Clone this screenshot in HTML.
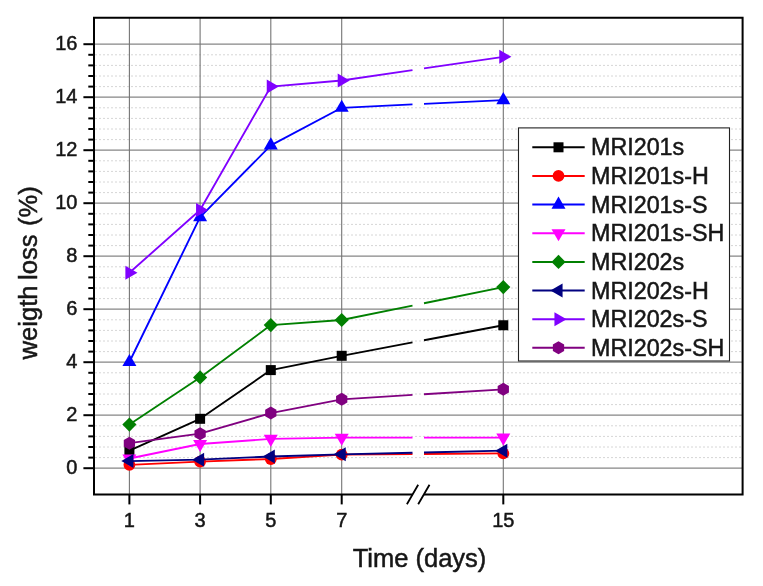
<!DOCTYPE html>
<html lang="en"><head><meta charset="utf-8"><title>Weight loss vs time</title>
<style>html,body{margin:0;padding:0;background:#fff}body{width:763px;height:586px;overflow:hidden}svg{display:block;will-change:transform;opacity:.999;filter:blur(.4px)}text{font-family:'Liberation Sans', sans-serif;fill:#161616;stroke:#161616;stroke-width:.5px}</style></head><body>
<svg width="763" height="586" viewBox="0 0 763 586">
<rect width="763" height="586" fill="#fff"/>
<g stroke="#d6d6d6" stroke-width="1" stroke-dasharray="2 2" fill="none">
<line x1="95" y1="457.6" x2="741.6" y2="457.6"/>
<line x1="95" y1="447" x2="741.6" y2="447"/>
<line x1="95" y1="436.4" x2="741.6" y2="436.4"/>
<line x1="95" y1="425.8" x2="741.6" y2="425.8"/>
<line x1="95" y1="404.6" x2="741.6" y2="404.6"/>
<line x1="95" y1="394" x2="741.6" y2="394"/>
<line x1="95" y1="383.4" x2="741.6" y2="383.4"/>
<line x1="95" y1="372.8" x2="741.6" y2="372.8"/>
<line x1="95" y1="351.6" x2="741.6" y2="351.6"/>
<line x1="95" y1="341" x2="741.6" y2="341"/>
<line x1="95" y1="330.4" x2="741.6" y2="330.4"/>
<line x1="95" y1="319.8" x2="741.6" y2="319.8"/>
<line x1="95" y1="298.6" x2="741.6" y2="298.6"/>
<line x1="95" y1="288" x2="741.6" y2="288"/>
<line x1="95" y1="277.4" x2="741.6" y2="277.4"/>
<line x1="95" y1="266.8" x2="741.6" y2="266.8"/>
<line x1="95" y1="245.6" x2="741.6" y2="245.6"/>
<line x1="95" y1="235" x2="741.6" y2="235"/>
<line x1="95" y1="224.4" x2="741.6" y2="224.4"/>
<line x1="95" y1="213.8" x2="741.6" y2="213.8"/>
<line x1="95" y1="192.6" x2="741.6" y2="192.6"/>
<line x1="95" y1="182" x2="741.6" y2="182"/>
<line x1="95" y1="171.4" x2="741.6" y2="171.4"/>
<line x1="95" y1="160.8" x2="741.6" y2="160.8"/>
<line x1="95" y1="139.6" x2="741.6" y2="139.6"/>
<line x1="95" y1="129" x2="741.6" y2="129"/>
<line x1="95" y1="118.4" x2="741.6" y2="118.4"/>
<line x1="95" y1="107.8" x2="741.6" y2="107.8"/>
<line x1="95" y1="86.6" x2="741.6" y2="86.6"/>
<line x1="95" y1="76" x2="741.6" y2="76"/>
<line x1="95" y1="65.4" x2="741.6" y2="65.4"/>
<line x1="95" y1="54.8" x2="741.6" y2="54.8"/>
</g>
<g stroke="#868686" stroke-width="1.2" fill="none">
<line x1="94" y1="468.2" x2="742.6" y2="468.2"/>
<line x1="94" y1="415.2" x2="742.6" y2="415.2"/>
<line x1="94" y1="362.2" x2="742.6" y2="362.2"/>
<line x1="94" y1="309.2" x2="742.6" y2="309.2"/>
<line x1="94" y1="256.2" x2="742.6" y2="256.2"/>
<line x1="94" y1="203.2" x2="742.6" y2="203.2"/>
<line x1="94" y1="150.2" x2="742.6" y2="150.2"/>
<line x1="94" y1="97.2" x2="742.6" y2="97.2"/>
<line x1="94" y1="44.2" x2="742.6" y2="44.2"/>
</g><g stroke="#747474" stroke-width="1.1" fill="none">
<line x1="129.4" y1="17.65" x2="129.4" y2="494.6"/>
<line x1="200.1" y1="17.65" x2="200.1" y2="494.6"/>
<line x1="270.8" y1="17.65" x2="270.8" y2="494.6"/>
<line x1="341.7" y1="17.65" x2="341.7" y2="494.6"/>
<line x1="503.3" y1="17.65" x2="503.3" y2="494.6"/>
</g>
<g>
<path d="M129.4 450.6 L200.1 418.8 L270.8 370.1 L341.7 355.8 L412.5 342.42 M424 340.24 L503.3 325.25" stroke="#000000" stroke-width="1.85" fill="none" stroke-linejoin="round"/>
<rect x="124.4" y="445.6" width="10" height="10" fill="#000000"/>
<rect x="195.1" y="413.8" width="10" height="10" fill="#000000"/>
<rect x="265.8" y="365.1" width="10" height="10" fill="#000000"/>
<rect x="336.7" y="350.8" width="10" height="10" fill="#000000"/>
<rect x="498.3" y="320.25" width="10" height="10" fill="#000000"/>
</g>
<g>
<path d="M129.4 464.8 L200.1 461.6 L270.8 459 L341.7 454.7 L412.5 454.13 M424 454.04 L503.3 453.4" stroke="#ff0000" stroke-width="1.85" fill="none" stroke-linejoin="round"/>
<circle cx="129.4" cy="464.8" r="5.9" fill="#ff0000"/>
<circle cx="200.1" cy="461.6" r="5.9" fill="#ff0000"/>
<circle cx="270.8" cy="459" r="5.9" fill="#ff0000"/>
<circle cx="341.7" cy="454.7" r="5.9" fill="#ff0000"/>
<circle cx="503.3" cy="453.4" r="5.9" fill="#ff0000"/>
</g>
<g>
<path d="M129.4 362 L200.1 217.2 L270.8 145.4 L341.7 107.8 L412.5 104.43 M424 103.88 L503.3 100.1" stroke="#0000ff" stroke-width="1.85" fill="none" stroke-linejoin="round"/>
<polygon points="129.4,353.92 122.4,366.04 136.4,366.04" fill="#0000ff"/>
<polygon points="200.1,209.12 193.1,221.24 207.1,221.24" fill="#0000ff"/>
<polygon points="270.8,137.32 263.8,149.44 277.8,149.44" fill="#0000ff"/>
<polygon points="341.7,99.72 334.7,111.84 348.7,111.84" fill="#0000ff"/>
<polygon points="503.3,92.02 496.3,104.14 510.3,104.14" fill="#0000ff"/>
</g>
<g>
<path d="M129.4 458.5 L200.1 444 L270.8 438.9 L341.7 437.7 L412.5 437.66 M424 437.65 L503.3 437.6" stroke="#ff00ff" stroke-width="1.85" fill="none" stroke-linejoin="round"/>
<polygon points="129.4,466.58 122.4,454.46 136.4,454.46" fill="#ff00ff"/>
<polygon points="200.1,452.08 193.1,439.96 207.1,439.96" fill="#ff00ff"/>
<polygon points="270.8,446.98 263.8,434.86 277.8,434.86" fill="#ff00ff"/>
<polygon points="341.7,445.78 334.7,433.66 348.7,433.66" fill="#ff00ff"/>
<polygon points="503.3,445.68 496.3,433.56 510.3,433.56" fill="#ff00ff"/>
</g>
<g>
<path d="M129.4 424.55 L200.1 377.4 L270.8 325.1 L341.7 320 L412.5 305.56 M424 303.22 L503.3 287.05" stroke="#008000" stroke-width="1.85" fill="none" stroke-linejoin="round"/>
<polygon points="129.4,417.45 136.5,424.55 129.4,431.65 122.3,424.55" fill="#008000"/>
<polygon points="200.1,370.3 207.2,377.4 200.1,384.5 193,377.4" fill="#008000"/>
<polygon points="270.8,318 277.9,325.1 270.8,332.2 263.7,325.1" fill="#008000"/>
<polygon points="341.7,312.9 348.8,320 341.7,327.1 334.6,320" fill="#008000"/>
<polygon points="503.3,279.95 510.4,287.05 503.3,294.15 496.2,287.05" fill="#008000"/>
</g>
<g>
<path d="M129.4 461.1 L200.1 459.7 L270.8 456.5 L341.7 454.3 L412.5 452.72 M424 452.47 L503.3 450.7" stroke="#000080" stroke-width="1.85" fill="none" stroke-linejoin="round"/>
<polygon points="121.32,461.1 133.44,454.1 133.44,468.1" fill="#000080"/>
<polygon points="192.02,459.7 204.14,452.7 204.14,466.7" fill="#000080"/>
<polygon points="262.72,456.5 274.84,449.5 274.84,463.5" fill="#000080"/>
<polygon points="333.62,454.3 345.74,447.3 345.74,461.3" fill="#000080"/>
<polygon points="495.22,450.7 507.34,443.7 507.34,457.7" fill="#000080"/>
</g>
<g>
<path d="M129.4 272.8 L200.1 210 L270.8 86.6 L341.7 80.5 L412.5 70.12 M424 68.43 L503.3 56.8" stroke="#8000ff" stroke-width="1.85" fill="none" stroke-linejoin="round"/>
<polygon points="137.48,272.8 125.36,265.8 125.36,279.8" fill="#8000ff"/>
<polygon points="208.18,210 196.06,203 196.06,217" fill="#8000ff"/>
<polygon points="278.88,86.6 266.76,79.6 266.76,93.6" fill="#8000ff"/>
<polygon points="349.78,80.5 337.66,73.5 337.66,87.5" fill="#8000ff"/>
<polygon points="511.38,56.8 499.26,49.8 499.26,63.8" fill="#8000ff"/>
</g>
<g>
<path d="M129.4 443.2 L200.1 433.7 L270.8 413.1 L341.7 399.3 L412.5 394.92 M424 394.21 L503.3 389.3" stroke="#800080" stroke-width="1.85" fill="none" stroke-linejoin="round"/>
<polygon points="129.4,436.7 135.03,439.95 135.03,446.45 129.4,449.7 123.77,446.45 123.77,439.95" fill="#800080"/>
<polygon points="200.1,427.2 205.73,430.45 205.73,436.95 200.1,440.2 194.47,436.95 194.47,430.45" fill="#800080"/>
<polygon points="270.8,406.6 276.43,409.85 276.43,416.35 270.8,419.6 265.17,416.35 265.17,409.85" fill="#800080"/>
<polygon points="341.7,392.8 347.33,396.05 347.33,402.55 341.7,405.8 336.07,402.55 336.07,396.05" fill="#800080"/>
<polygon points="503.3,382.8 508.93,386.05 508.93,392.55 503.3,395.8 497.67,392.55 497.67,386.05" fill="#800080"/>
</g>
<g stroke="#000" stroke-width="2" fill="none" stroke-linecap="butt">
<path d="M412.5 494.6 L94 494.6 L94 17.65 L742.6 17.65 L742.6 495.6 M743.6 494.6 L424 494.6"/>
<path d="M406.9 504.3 L418.2 484.8 M418.2 504.3 L429.5 484.8" stroke-width="1.8"/>
<line x1="83.4" y1="468.2" x2="94" y2="468.2"/>
<line x1="83.4" y1="415.2" x2="94" y2="415.2"/>
<line x1="83.4" y1="362.2" x2="94" y2="362.2"/>
<line x1="83.4" y1="309.2" x2="94" y2="309.2"/>
<line x1="83.4" y1="256.2" x2="94" y2="256.2"/>
<line x1="83.4" y1="203.2" x2="94" y2="203.2"/>
<line x1="83.4" y1="150.2" x2="94" y2="150.2"/>
<line x1="83.4" y1="97.2" x2="94" y2="97.2"/>
<line x1="83.4" y1="44.2" x2="94" y2="44.2"/>
<line x1="88.3" y1="457.6" x2="94" y2="457.6"/>
<line x1="88.3" y1="447" x2="94" y2="447"/>
<line x1="88.3" y1="436.4" x2="94" y2="436.4"/>
<line x1="88.3" y1="425.8" x2="94" y2="425.8"/>
<line x1="88.3" y1="404.6" x2="94" y2="404.6"/>
<line x1="88.3" y1="394" x2="94" y2="394"/>
<line x1="88.3" y1="383.4" x2="94" y2="383.4"/>
<line x1="88.3" y1="372.8" x2="94" y2="372.8"/>
<line x1="88.3" y1="351.6" x2="94" y2="351.6"/>
<line x1="88.3" y1="341" x2="94" y2="341"/>
<line x1="88.3" y1="330.4" x2="94" y2="330.4"/>
<line x1="88.3" y1="319.8" x2="94" y2="319.8"/>
<line x1="88.3" y1="298.6" x2="94" y2="298.6"/>
<line x1="88.3" y1="288" x2="94" y2="288"/>
<line x1="88.3" y1="277.4" x2="94" y2="277.4"/>
<line x1="88.3" y1="266.8" x2="94" y2="266.8"/>
<line x1="88.3" y1="245.6" x2="94" y2="245.6"/>
<line x1="88.3" y1="235" x2="94" y2="235"/>
<line x1="88.3" y1="224.4" x2="94" y2="224.4"/>
<line x1="88.3" y1="213.8" x2="94" y2="213.8"/>
<line x1="88.3" y1="192.6" x2="94" y2="192.6"/>
<line x1="88.3" y1="182" x2="94" y2="182"/>
<line x1="88.3" y1="171.4" x2="94" y2="171.4"/>
<line x1="88.3" y1="160.8" x2="94" y2="160.8"/>
<line x1="88.3" y1="139.6" x2="94" y2="139.6"/>
<line x1="88.3" y1="129" x2="94" y2="129"/>
<line x1="88.3" y1="118.4" x2="94" y2="118.4"/>
<line x1="88.3" y1="107.8" x2="94" y2="107.8"/>
<line x1="88.3" y1="86.6" x2="94" y2="86.6"/>
<line x1="88.3" y1="76" x2="94" y2="76"/>
<line x1="88.3" y1="65.4" x2="94" y2="65.4"/>
<line x1="88.3" y1="54.8" x2="94" y2="54.8"/>
<line x1="129.4" y1="494.6" x2="129.4" y2="504.4"/>
<line x1="200.1" y1="494.6" x2="200.1" y2="504.4"/>
<line x1="270.8" y1="494.6" x2="270.8" y2="504.4"/>
<line x1="341.7" y1="494.6" x2="341.7" y2="504.4"/>
<line x1="503.3" y1="494.6" x2="503.3" y2="504.4"/>
</g>
<g font-size="20" text-anchor="end">
<text x="77.4" y="474.4">0</text>
<text x="77.4" y="421.4">2</text>
<text x="77.4" y="368.4">4</text>
<text x="77.4" y="315.4">6</text>
<text x="77.4" y="262.4">8</text>
<text x="77.4" y="209.4">10</text>
<text x="77.4" y="156.4">12</text>
<text x="77.4" y="103.4">14</text>
<text x="77.4" y="50.4">16</text>
</g><g font-size="20" text-anchor="middle">
<text x="129.4" y="527.1">1</text>
<text x="200.1" y="527.1">3</text>
<text x="270.8" y="527.1">5</text>
<text x="341.7" y="527.1">7</text>
<text x="503.3" y="527.1">15</text>
</g>
<text x="419.5" y="566.9" font-size="25.5" text-anchor="middle">Time (days)</text>
<text transform="translate(36.6 272.8) rotate(-90)" font-size="25.6" text-anchor="middle">weigth<tspan dx="-1.6"> loss</tspan><tspan dx="1.4"> (%)</tspan></text>
<rect x="518.5" y="127.9" width="211" height="233.1" fill="#fff" stroke="#222" stroke-width="1.1"/>
<line x1="532.3" y1="147.3" x2="584.7" y2="147.3" stroke="#000000" stroke-width="2"/>
<rect x="553.5" y="142.3" width="10" height="10" fill="#000000"/>
<text x="591.0" y="155.3" font-size="23.3">MRI201s</text>
<line x1="532.3" y1="175.95" x2="584.7" y2="175.95" stroke="#ff0000" stroke-width="2"/>
<circle cx="558.5" cy="175.95" r="5.9" fill="#ff0000"/>
<text x="591.0" y="183.95" font-size="23.3">MRI201s-H</text>
<line x1="532.3" y1="204.6" x2="584.7" y2="204.6" stroke="#0000ff" stroke-width="2"/>
<polygon points="558.5,196.52 551.5,208.64 565.5,208.64" fill="#0000ff"/>
<text x="591.0" y="212.6" font-size="23.3">MRI201s-S</text>
<line x1="532.3" y1="233.25" x2="584.7" y2="233.25" stroke="#ff00ff" stroke-width="2"/>
<polygon points="558.5,241.33 551.5,229.21 565.5,229.21" fill="#ff00ff"/>
<text x="591.0" y="241.25" font-size="23.3">MRI201s-SH</text>
<line x1="532.3" y1="261.9" x2="584.7" y2="261.9" stroke="#008000" stroke-width="2"/>
<polygon points="558.5,254.8 565.6,261.9 558.5,269 551.4,261.9" fill="#008000"/>
<text x="591.0" y="269.9" font-size="23.3">MRI202s</text>
<line x1="532.3" y1="290.55" x2="584.7" y2="290.55" stroke="#000080" stroke-width="2"/>
<polygon points="550.42,290.55 562.54,283.55 562.54,297.55" fill="#000080"/>
<text x="591.0" y="298.55" font-size="23.3">MRI202s-H</text>
<line x1="532.3" y1="319.2" x2="584.7" y2="319.2" stroke="#8000ff" stroke-width="2"/>
<polygon points="566.58,319.2 554.46,312.2 554.46,326.2" fill="#8000ff"/>
<text x="591.0" y="327.2" font-size="23.3">MRI202s-S</text>
<line x1="532.3" y1="347.85" x2="584.7" y2="347.85" stroke="#800080" stroke-width="2"/>
<polygon points="558.5,341.35 564.13,344.6 564.13,351.1 558.5,354.35 552.87,351.1 552.87,344.6" fill="#800080"/>
<text x="591.0" y="355.85" font-size="23.3">MRI202s-SH</text>
</svg></body></html>
